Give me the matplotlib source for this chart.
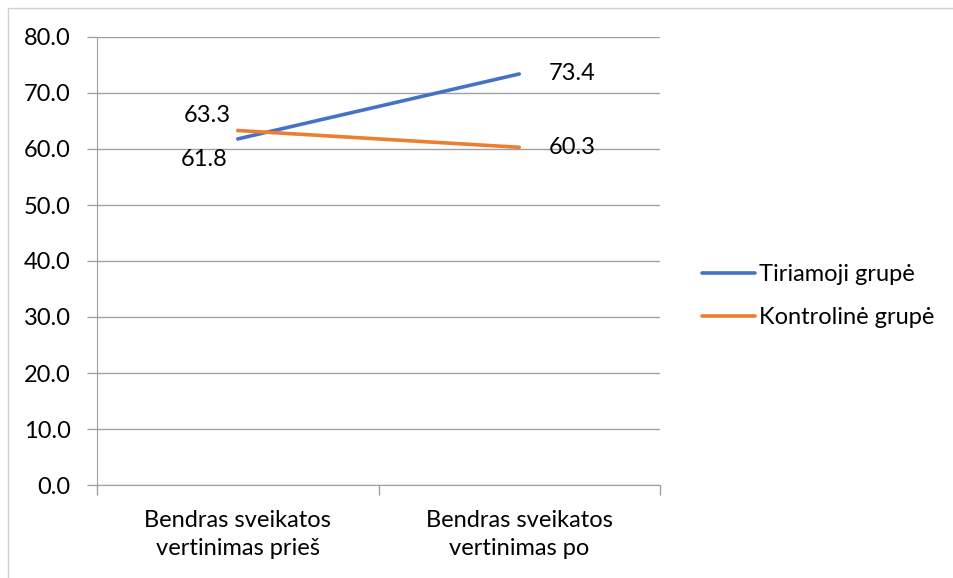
import matplotlib.pyplot as plt
from matplotlib.patches import Rectangle

categories = ["Bendras sveikatos\nvertinimas prieš", "Bendras sveikatos\nvertinimas po"]
tiriamoji = [61.8, 73.4]
kontroline = [63.3, 60.3]
series_names = ["Tiriamoji grupė", "Kontrolinė grupė"]

plt.rcParams['font.family'] = ['Lato', 'DejaVu Sans']
FS = 17

fig = plt.figure(figsize=(9.54, 5.78), dpi=100)
ax = fig.add_axes([97 / 954, 1 - 485 / 578, (660 - 97) / 954, (485 - 37) / 578])

# outer chart border (only top and left show)
fig.patches.append(Rectangle((8 / 954, -0.1), 1.2, (578 - 8) / 578 + 0.1, transform=fig.transFigure,
                             fill=False, edgecolor="#d0d0d0", linewidth=1))

x = range(len(categories))
ax.plot(x, tiriamoji, color="#4472C4", linewidth=2.6, label=series_names[0], solid_capstyle="round")
ax.plot(x, kontroline, color="#ED7D31", linewidth=2.6, label=series_names[1], solid_capstyle="round")

# data labels
ax.annotate(f"{tiriamoji[0]:.1f}", (0, tiriamoji[0]), xytext=(-24, -15), textcoords="offset points",
            ha="center", va="center", fontsize=FS)
ax.annotate(f"{tiriamoji[1]:.1f}", (1, tiriamoji[1]), xytext=(38, 0), textcoords="offset points",
            ha="center", va="center", fontsize=FS)
ax.annotate(f"{kontroline[0]:.1f}", (0, kontroline[0]), xytext=(-22, 10.5), textcoords="offset points",
            ha="center", va="center", fontsize=FS)
ax.annotate(f"{kontroline[1]:.1f}", (1, kontroline[1]), xytext=(38, 0), textcoords="offset points",
            ha="center", va="center", fontsize=FS)

ax.set_xlim(-0.5, 1.5)
ax.set_ylim(0, 80)
ax.set_yticks(range(0, 81, 10))
ax.set_yticklabels([f"{v:.1f}" for v in range(0, 81, 10)], fontsize=FS)
ax.set_xticks(list(x))
ax.set_xticklabels(categories, fontsize=FS, linespacing=1.4)
ax.set_xticks([-0.5, 0.5, 1.5], minor=True)
ax.tick_params(axis="x", which="major", length=0, pad=18)
ax.tick_params(axis="x", which="minor", length=7, color="#a0a0a0", width=1)
ax.tick_params(axis="y", length=7, color="#a0a0a0", width=1, pad=12)

ax.grid(axis="y", color="#a0a0a0", linewidth=1)
ax.set_axisbelow(True)
for s in ["top", "right"]:
    ax.spines[s].set_visible(False)
ax.spines["left"].set_color("#a0a0a0")
ax.spines["bottom"].set_color("#a0a0a0")

fig.legend(loc="center left", bbox_to_anchor=(681 / 954, 1 - 296 / 578), frameon=False,
           fontsize=FS, handlelength=2.25, handletextpad=0.15, labelspacing=0.95)

fig.savefig("out.png", dpi=100)
